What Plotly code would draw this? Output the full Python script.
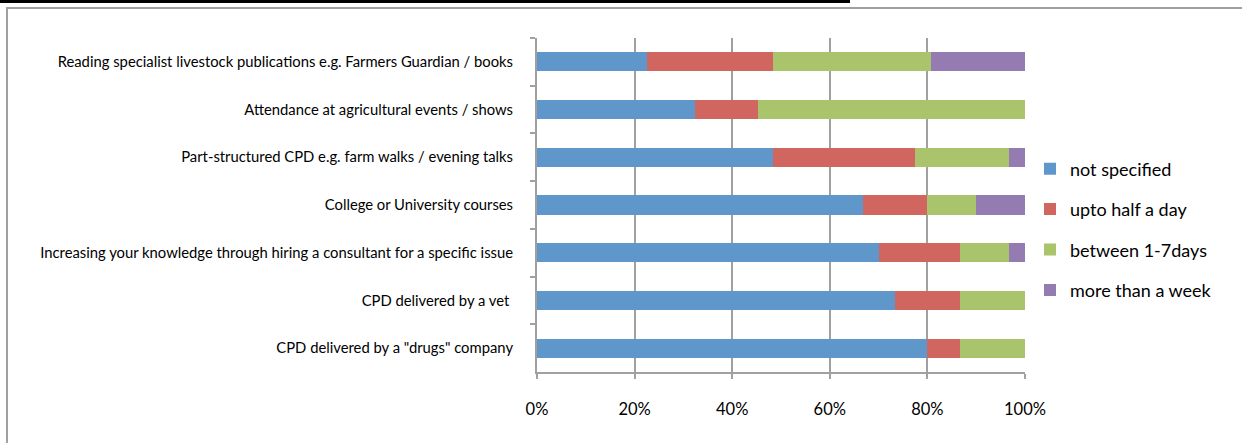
import plotly.graph_objects as go

categories = [
    "Reading specialist livestock publications e.g. Farmers Guardian / books",
    "Attendance at agricultural events / shows",
    "Part-structured CPD e.g. farm walks / evening talks",
    "College or University courses",
    "Increasing your knowledge through hiring a consultant for a specific issue",
    "CPD delivered by a vet ",
    'CPD delivered by a "drugs" company',
]
not_specified = [22.6, 32.3, 48.4, 66.7, 70.0, 73.3, 80.0]
upto_half_day = [25.8, 12.9, 29.0, 13.3, 16.7, 13.3, 6.7]
between_1_7 = [32.3, 54.8, 19.4, 10.0, 10.0, 13.4, 13.3]
more_than_week = [19.3, 0.0, 3.2, 10.0, 3.3, 0.0, 0.0]

series_names = ["not specified", "upto half a day", "between 1-7days", "more than a week"]
series_values = [not_specified, upto_half_day, between_1_7, more_than_week]
colors = ["#6097CA", "#D0665F", "#AAC46B", "#947CB2"]

W, H = 1242, 443
L, R, T, B = 537, 1025, 38, 372


def px(x):
    return (x - L) / (R - L)


def py(y):
    return (B - y) / (B - T)


fig = go.Figure()
for i, (name, vals, col) in enumerate(zip(series_names, series_values, colors)):
    fig.add_trace(go.Bar(
        y=categories, x=vals, name=name, orientation="h",
        marker=dict(color=col, line=dict(width=0)),
        legendgroup=str(i),
    ))

fig.update_layout(
    width=W, height=H,
    margin=dict(l=L, r=W - R, t=T, b=H - B, pad=0),
    barmode="stack", bargap=0.6,
    plot_bgcolor="white", paper_bgcolor="white",
    font=dict(family="Lato, Carlito, sans-serif", color="black"),
    legend=dict(
        x=px(1030), xanchor="left", y=py(150.5), yanchor="top",
        font=dict(size=18, color="black"),
        tracegroupgap=14, itemwidth=30,
        bgcolor="rgba(0,0,0,0)",
    ),
    xaxis=dict(
        range=[0, 100], dtick=20, ticksuffix="%",
        showgrid=True, gridcolor="#A0A0A0", gridwidth=2,
        showline=True, linecolor="#A0A0A0", linewidth=2,
        ticks="outside", ticklen=5, tickcolor="#A0A0A0", tickwidth=2,
        tickfont=dict(size=16.5, color="black"),
        ticklabelstandoff=16,
        zeroline=False, mirror=False,
    ),
    yaxis=dict(
        autorange="reversed",
        showline=True, linecolor="#A0A0A0", linewidth=2,
        ticks="outside", ticklen=5, tickcolor="#A0A0A0", tickwidth=2,
        tickson="boundaries",
        tickfont=dict(size=14.8, color="black"),
        ticklabelstandoff=19,
        showgrid=False,
    ),
    shapes=[
        dict(type="line", xref="paper", yref="paper",
             x0=px(0), x1=px(850), y0=py(1.5), y1=py(1.5),
             line=dict(color="black", width=3)),
        dict(type="line", xref="paper", yref="paper",
             x0=px(6), x1=px(1242), y0=py(8), y1=py(8),
             line=dict(color="#A0A0A0", width=2), layer="below"),
        dict(type="line", xref="paper", yref="paper",
             x0=px(7), x1=px(7), y0=py(8), y1=py(443),
             line=dict(color="#A0A0A0", width=2), layer="below"),
    ],
)

fig.write_html("out.html", post_script="document.body.style.margin='0';",
               config={"displayModeBar": False})
